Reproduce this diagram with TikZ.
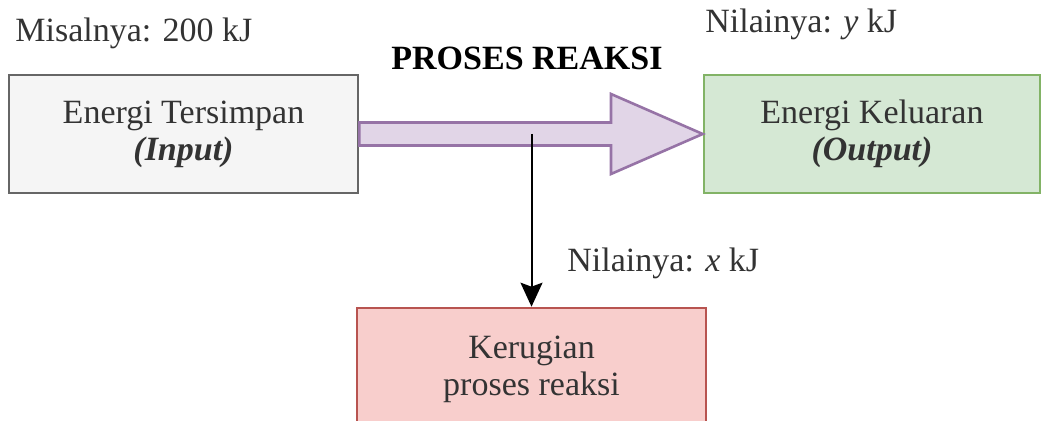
\documentclass[tikz,border=0pt]{standalone}
\usepackage{fontspec}
\setmainfont{Liberation Serif}
\usepackage{tikz}
\usetikzlibrary{calc,positioning}
\usetikzlibrary{arrows.meta}
\definecolor{inputfill}{HTML}{F5F5F5}
\definecolor{inputline}{HTML}{666666}
\definecolor{outputfill}{HTML}{D5E8D4}
\definecolor{outputline}{HTML}{82B366}
\definecolor{lossfill}{HTML}{F8CECC}
\definecolor{lossline}{HTML}{B85450}
\definecolor{flowfill}{HTML}{E1D5E7}
\definecolor{flowline}{HTML}{9673A6}
\definecolor{txt}{HTML}{333333}

\tikzset{
  energybox/.style={draw, line width=1.3pt, align=center, text=txt, minimum height=59pt},
  valuelabel/.style={anchor=base west, inner sep=0pt, text=txt}
}

\begin{document}
\begin{tikzpicture}[x=0.5pt, y=-0.5pt, >={Stealth[length=12pt,width=11pt,inset=2pt]},
  font=\fontsize{17}{18.5}\selectfont]
 			\useasboundingbox (0,0) rectangle (1042,421);
 			\path
 			(183.5,134) coordinate (pin)
 			(872,134) coordinate (pout)
 			(531.5,369) coordinate (ploss)
 			(611,0) coordinate (headbase)
 			;
 			
 			\node[energybox, fill=inputfill, draw=inputline, minimum width=174.5pt] (input) at (pin)
 			  {Energi Tersimpan\\\textbf{\textit{(Input)}}};
 			\node[energybox, fill=outputfill, draw=outputline, minimum width=168pt] (output) at (pout)
 			  {Energi Keluaran\\\textbf{\textit{(Output)}}};
 			\node[energybox, fill=lossfill, draw=lossline, minimum width=174.5pt, minimum height=61pt] (loss) at (ploss)
 			  {Kerugian\\proses reaksi};
 			
 			% block arrow of the reaction
 			\draw[line width=1.3pt, draw=flowline, fill=flowfill]
 			  ($(input.east)+(0,-11.5)$) -- ($(headbase |- input.east)+(0,-11.5)$)
 			  -- ($(headbase |- input.east)+(0,-40)$) -- (output.west)
 			  -- ($(headbase |- input.east)+(0,40)$) -- ($(headbase |- input.east)+(0,11.5)$)
 			  -- ($(input.east)+(0,11.5)$) -- cycle;
 			
 			\coordinate (drop) at (loss.north |- input.east);
 			\draw[line width=1pt, black, ->] (drop) to (loss.north);
 			
 			\draw (15,42) node[valuelabel] {Misalnya: 200 kJ};
 			\draw (391,70) node[valuelabel, text=black] {\textbf{PROSES REAKSI}};
 			\draw (705,33) node[valuelabel] {Nilainya: \textit{y} kJ};
 			\draw (567,272) node[valuelabel] {Nilainya: \textit{x} kJ};
\end{tikzpicture}
\end{document}
